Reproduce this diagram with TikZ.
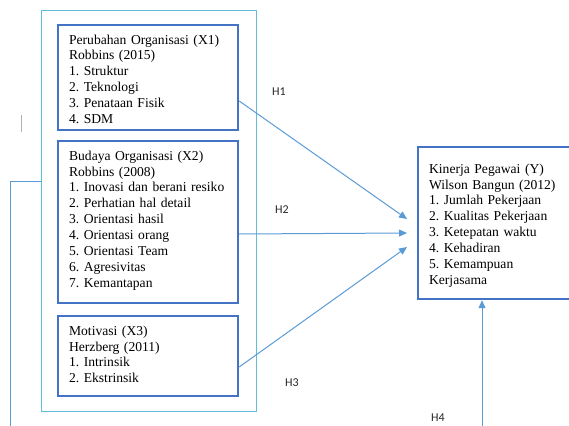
\documentclass[tikz,border=0pt]{standalone}
\usepackage{fontspec}
\setmainfont{Liberation Serif}
\newfontfamily\hfont{Carlito}
\frenchspacing
\usetikzlibrary{arrows.meta,positioning}
\definecolor{boxblue}{RGB}{68,114,196}
\definecolor{frameblue}{RGB}{96,190,214}
\definecolor{linkblue}{RGB}{91,155,213}
\tikzset{varbox/.style = {rectangle, draw = boxblue, line width = 2.2pt, anchor = north west, align = left,
		text width = 158pt, inner xsep = 11pt, inner ysep = 0pt, text height = 19pt,
		font = \fontsize{13.6}{15.9}\selectfont},
	framebox/.style = {rectangle, draw = frameblue, line width = 1pt, minimum width = 215pt, minimum height = 400pt},
	link/.style = {draw = linkblue, line width = 1pt, -{Triangle[length=8pt, width=7pt]}},
	hyp/.style = {font = \hfont\fontsize{12}{14}\selectfont, text = black!85}}

\begin{document}
\begin{tikzpicture}[x=1pt, y=-1pt]
 \useasboundingbox (0,0) rectangle (569,425);

 \node (frame) at (148.5,211) [framebox] {};

 \node (x1) at (57,24) [varbox, text depth = 86pt] {Perubahan Organisasi (X1)\\Robbins (2015)\\1. Struktur\\2. Teknologi\\3. Penataan Fisik\\4. SDM};
 \node (x2) at (57,140) [varbox, text depth = 143pt] {Budaya Organisasi (X2)\\Robbins (2008)\\1. Inovasi dan berani resiko\\2. Perhatian hal detail\\3. Orientasi hasil\\4. Orientasi orang\\5. Orientasi Team\\6. Agresivitas\\7. Kemantapan};
 \node (x3) at (57,315) [varbox, text depth = 61pt] {Motivasi (X3)\\Herzberg (2011)\\1. Intrinsik\\2. Ekstrinsik};
 \node (y) at (417,146) [varbox, text width = 136pt, text height = 26pt, text depth = 126pt] {Kinerja Pegawai (Y)\\Wilson Bangun (2012)\\1. Jumlah Pekerjaan\\2. Kualitas Pekerjaan\\3. Ketepatan waktu\\4. Kehadiran\\5. Kemampuan\\Kerjasama};

 \coordinate (in1) at (407,219);
 \coordinate (in2) at (407,233);
 \coordinate (in3) at (407,247);
 \coordinate (drop) at (10,432);
 \coordinate (rise) at (482,432);

 \draw [link] (x1.east |- 0,101) -- (in1);
 \draw [link] (x2.east |- 0,234) -- (in2);
 \draw [link] (x3.east |- 0,367) -- (in3);
 \draw [link, -] (frame.west |- 0,181) -| (drop);
 \draw [link] (rise) -- (rise |- y.south);

 \node (h1) at (279,92) [hyp] {H1};
 \node (h2) at (282,210) [hyp] {H2};
 \node (h3) at (292,383) [hyp] {H3};
 \node (h4) at (438,418) [hyp] {H4};

 \draw [black!30, line width = 1pt] (21,115) -- (21,132);

\end{tikzpicture}
\end{document}
